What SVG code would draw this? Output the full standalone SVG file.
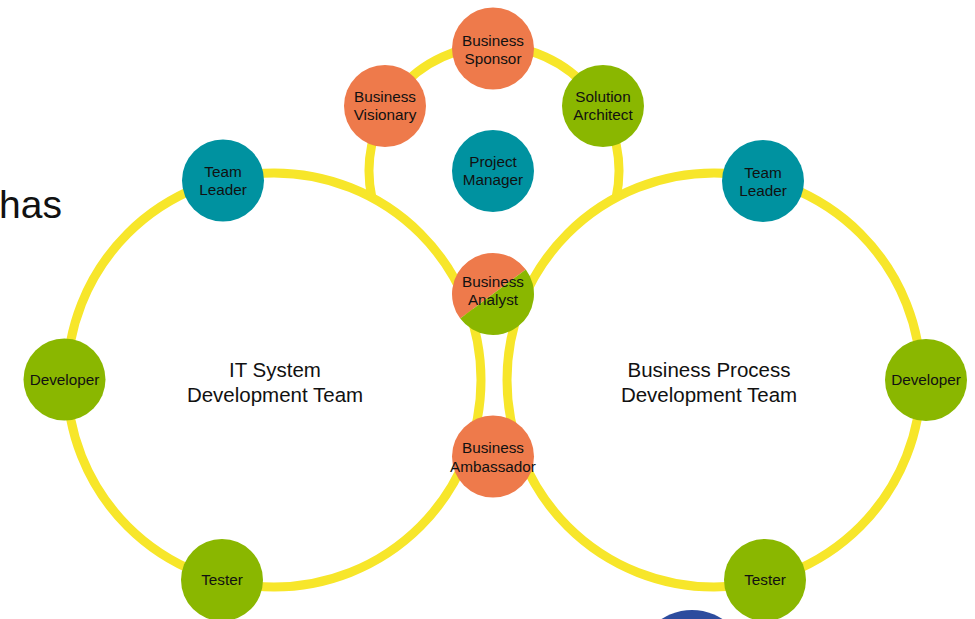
<svg xmlns="http://www.w3.org/2000/svg" width="975" height="619" viewBox="0 0 975 619">
<style>
.ring{fill:none;stroke:#F7E62A;stroke-width:9}
.o{fill:#EE7A4B}
.g{fill:#8AB700}
.t{fill:#0092A0}
.lbl{font-family:"Liberation Sans",Arial,sans-serif;font-size:15.3px;fill:#111;text-anchor:middle}
.big{font-family:"Liberation Sans",Arial,sans-serif;font-size:20.5px;fill:#111;text-anchor:middle}
</style>
<rect width="975" height="619" fill="#fff"/>
<text x="62" y="218" font-family="'Liberation Sans',Arial,sans-serif" font-size="39" fill="#111" text-anchor="end">has</text>
<circle cx="692" cy="666" r="56" fill="#2D4C9E"/>
<g id="connectors">
<circle class="ring" cx="274" cy="380" r="207"/>
<circle class="ring" cx="714" cy="380" r="207"/>
<path class="ring" d="M371.9,197.6 A125,125 0 1 1 616.1,197.6"/>
</g>
<g id="it-team"><text class="big" x="275" y="377">IT System</text><text class="big" x="275" y="402">Development Team</text></g>
<g id="bp-team"><text class="big" x="709" y="377">Business Process</text><text class="big" x="709" y="402">Development Team</text></g>
<g id="business-sponsor"><circle class="o" cx="493" cy="48.5" r="41"/><text class="lbl" x="493" y="45.5">Business</text><text class="lbl" x="493" y="63.5">Sponsor</text></g>
<g id="business-visionary"><circle class="o" cx="385" cy="106" r="41"/><text class="lbl" x="385" y="102">Business</text><text class="lbl" x="385" y="120">Visionary</text></g>
<g id="solution-architect"><circle class="g" cx="603" cy="106" r="41"/><text class="lbl" x="603" y="102">Solution</text><text class="lbl" x="603" y="120">Architect</text></g>
<g id="project-manager"><circle class="t" cx="493" cy="171" r="41"/><text class="lbl" x="493" y="167">Project</text><text class="lbl" x="493" y="185">Manager</text></g>
<g id="team-leader-left"><circle class="t" cx="223" cy="180.5" r="41"/><text class="lbl" x="223" y="177">Team</text><text class="lbl" x="223" y="195">Leader</text></g>
<g id="team-leader-right"><circle class="t" cx="763" cy="181" r="41"/><text class="lbl" x="763" y="177.5">Team</text><text class="lbl" x="763" y="195.5">Leader</text></g>
<g id="business-analyst"><path class="o" d="M460.2,318.6 A41,41 0 0 1 525.8,269.4 Z"/><path class="g" d="M525.8,269.4 A41,41 0 0 1 460.2,318.6 Z"/><text class="lbl" x="493" y="287">Business</text><text class="lbl" x="493" y="305">Analyst</text></g>
<g id="developer-left"><circle class="g" cx="64.5" cy="379.5" r="41"/><text class="lbl" x="64.5" y="384.5">Developer</text></g>
<g id="developer-right"><circle class="g" cx="926" cy="380" r="41"/><text class="lbl" x="926" y="385">Developer</text></g>
<g id="business-ambassador"><circle class="o" cx="493" cy="456.5" r="41"/><text class="lbl" x="493" y="453">Business</text><text class="lbl" x="493" y="471.5">Ambassador</text></g>
<g id="tester-left"><circle class="g" cx="222" cy="580" r="41"/><text class="lbl" x="222" y="585">Tester</text></g>
<g id="tester-right"><circle class="g" cx="765" cy="580" r="41"/><text class="lbl" x="765" y="585">Tester</text></g>
</svg>
